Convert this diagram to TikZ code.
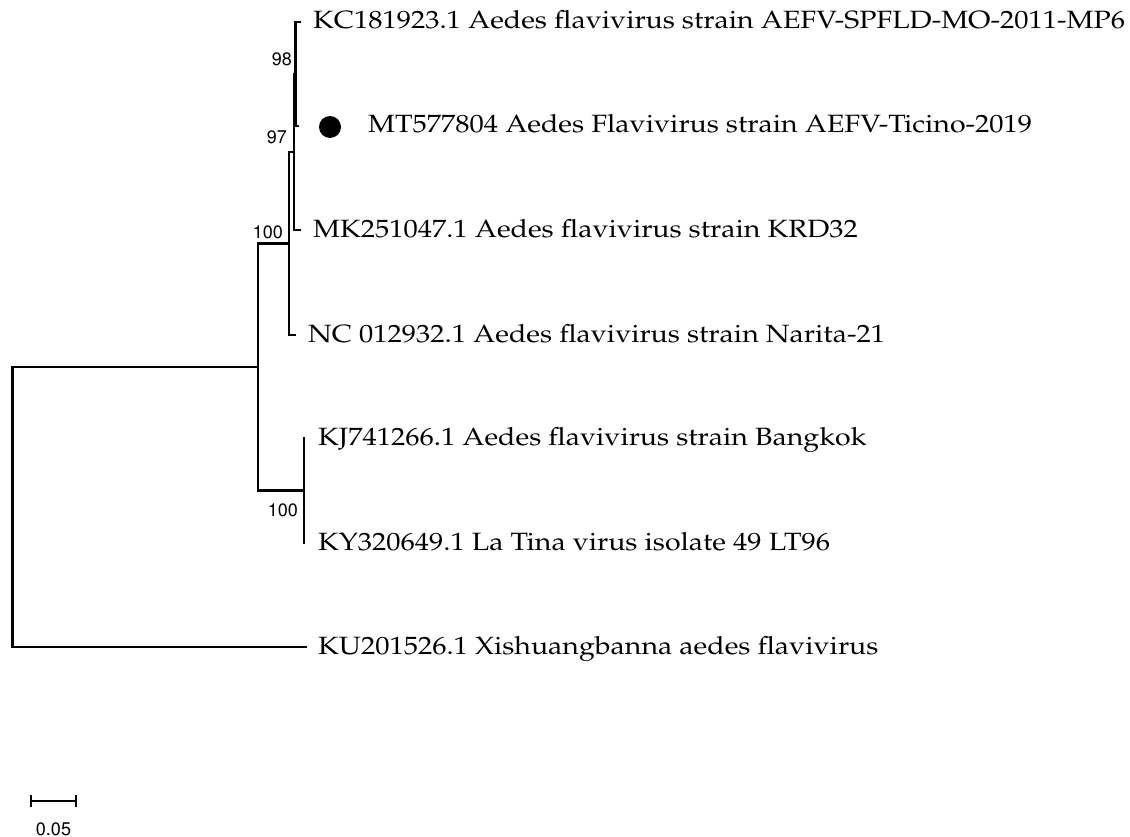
\documentclass[tikz,border=0pt]{standalone}
\usepackage[T1]{fontenc}
\usepackage{graphicx}
\usepackage{tikz}
\usetikzlibrary{positioning,arrows.meta}
\newcommand{\taxfont}{\fontfamily{ppl}\fontsize{25}{28}\selectfont}
\newcommand{\bsfont}{\fontfamily{phv}\fontsize{18}{20}\selectfont}
\newcommand{\wide}[1]{\scalebox{1.14}[1]{#1}}
\tikzset{
  br/.style={line width=2.6pt,line cap=rect},
  taxon/.style={anchor=base west,inner sep=0pt,font=\taxfont},
  boot/.style={anchor=east,inner sep=0pt,font=\bsfont},
  scalebar/.style={line width=2.6pt,{Bar[width=12pt,line width=2.4pt]}-{Bar[width=12pt,line width=2.4pt]}},
}

\begin{document}
\begin{tikzpicture}[x=1pt,y=-1pt]
\useasboundingbox (0,0) rectangle (1130,837);
% tips
\coordinate (tKC) at (300,22);
\coordinate (tMT) at (298,126);
\coordinate (tMK) at (300,230);
\coordinate (tNC) at (295,335);
\coordinate (tKJ) at (304,438);
\coordinate (tKY) at (304,543);
\coordinate (tKU) at (306,647);
% inner nodes
\coordinate (nD) at (295.5,74);
\coordinate (nC) at (294,152);
\coordinate (nB) at (289,243.5);
\coordinate (nE) at (304,490.5);
\coordinate (nA) at (258,367);
\coordinate (root) at (12.5,507);
% branches
\draw[br] (nD) |- (tKC);
\draw[br] (nD) |- (tMT);
\draw[br] (nC) |- (nD);
\draw[br] (nC) |- (tMK);
\draw[br] (nB) |- (nC);
\draw[br] (nB) |- (tNC);
\draw[br] (nE) |- (tKJ);
\draw[br] (nE) |- (tKY);
\draw[br] (nA) |- (nB);
\draw[br] (nA) |- (nE);
\draw[br] (root) |- (nA);
\draw[br] (root) |- (tKU);
% taxa
\node[taxon] (KC) at (313,29) {\wide{KC181923.1 Aedes flavivirus strain AEFV-SPFLD-MO-2011-MP6}};
\node[circle,fill=black,inner sep=0pt,minimum size=22pt] (dot) at (330,127) {};
\node[taxon] (MT) at (368,133) {\wide{MT577804 Aedes Flavivirus strain AEFV-Ticino-2019}};
\node[taxon] (MK) at (313,237) {\wide{MK251047.1 Aedes flavivirus strain KRD32}};
\node[taxon] (NC) at (308,342) {\wide{NC 012932.1 Aedes flavivirus strain Narita-21}};
\node[taxon] (KJ) at (318,445) {\wide{KJ741266.1 Aedes flavivirus strain Bangkok}};
\node[taxon] (KY) at (318,550) {\wide{KY320649.1 La Tina virus isolate 49 LT96}};
\node[taxon] (KU) at (318,654) {\wide{KU201526.1 Xishuangbanna aedes flavivirus}};
% bootstrap
\node[boot] (bD) at (292,59) {98};
\node[boot] (bC) at (287,137) {97};
\node[boot] (bB) at (283,232) {100};
\node[boot] (bE) at (298,510) {100};
% scale
\coordinate (sL) at (30,801);
\coordinate (sR) at (77,801);
\draw[scalebar] (sL) -- (sR);
\node[font=\bsfont,inner sep=0pt] (sc) at (53.5,829) {0.05};
\end{tikzpicture}
\end{document}
